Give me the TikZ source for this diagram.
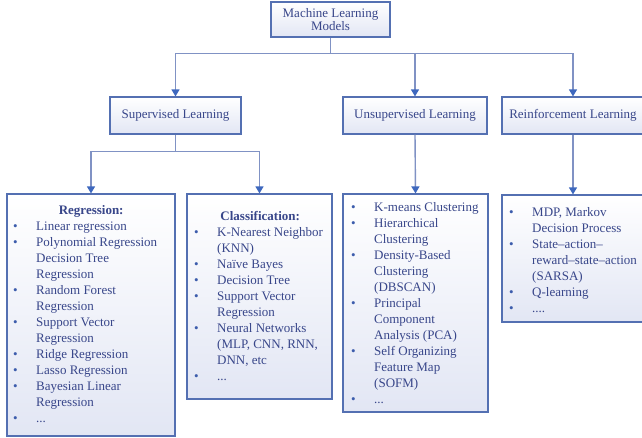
\documentclass[tikz,border=0pt]{standalone}
\usepackage{fontspec}
\setmainfont{Liberation Serif}
\usepackage{array}
\usetikzlibrary{arrows.meta}
\definecolor{mlline}{RGB}{84,112,178}
\definecolor{mlconn}{RGB}{128,146,196}
\definecolor{mlarrow}{RGB}{62,104,190}
\definecolor{mlfill}{RGB}{226,230,244}
\definecolor{mltext}{RGB}{56,70,138}
\definecolor{mlbullet}{RGB}{60,92,172}
\newcommand{\itm}{\textcolor{mlbullet}{\textbullet}}
\newcommand{\hd}[2]{\multicolumn{2}{@{}>{\centering\arraybackslash}p{#1}@{}}{\textbf{#2}}}
\begin{document}
\begin{tikzpicture}[x=1pt,y=-1pt,
    box/.style={draw=mlline,line width=1.2pt,top color=white,bottom color=mlfill,
        text=mltext,inner sep=0pt,font=\fontsize{13}{13}\selectfont,align=center},
    conn/.style={draw=mlconn,line width=1.4pt},
    arr/.style={conn,-{Triangle[width=8pt,length=7pt,color=mlarrow]}},
    list/.style={anchor=north west,inner sep=0pt,text=mltext,font=\fontsize{13}{16}\selectfont}]
\useasboundingbox (0,0) rectangle (642,437);

% top and first level
\node[box,minimum width=119,minimum height=35] (ml) at (330.5,19.5) {Machine Learning\\Models};
\node[box,minimum width=131,minimum height=37] (sup) at (175.5,115.5) {Supervised Learning};
\node[box,minimum width=144,minimum height=37] (uns) at (415,115.5) {Unsupervised Learning};
\node[box,minimum width=142,minimum height=37] (rl) at (573,115.5) {Reinforcement Learning};

% list boxes
\node[box,minimum width=168,minimum height=242] (reg) at (91,315) {};
\node[box,minimum width=145,minimum height=205] (cls) at (259.5,296.5) {};
\node[box,minimum width=145,minimum height=218] (unsl) at (415.5,303) {};
\node[box,minimum width=142,minimum height=127] (rll) at (573,258.5) {};

\node[list] (reglist) at (13,202.8) {\begin{tabular}{@{}p{23pt}@{}l@{}}
\hd{156pt}{Regression:}\\
\itm & Linear regression\\
\itm & Polynomial Regression\\
 & Decision Tree\\
 & Regression\\
\itm & Random Forest\\
 & Regression\\
\itm & Support Vector\\
 & Regression\\
\itm & Ridge Regression\\
\itm & Lasso Regression\\
\itm & Bayesian Linear\\
 & Regression\\
\itm & ...
\end{tabular}};

\node[list] (clslist) at (194,208.8) {\begin{tabular}{@{}p{23pt}@{}l@{}}
\hd{132pt}{Classification:}\\
\itm & K-Nearest Neighbor\\
 & (KNN)\\
\itm & Naïve Bayes\\
\itm & Decision Tree\\
\itm & Support Vector\\
 & Regression\\
\itm & Neural Networks\\
 & (MLP, CNN, RNN,\\
 & DNN, etc\\
\itm & ...
\end{tabular}};

\node[list] (unslist) at (351,199.8) {\begin{tabular}{@{}p{23pt}@{}l@{}}
\itm & K-means Clustering\\
\itm & Hierarchical\\
 & Clustering\\
\itm & Density-Based\\
 & Clustering\\
 & (DBSCAN)\\
\itm & Principal\\
 & Component\\
 & Analysis (PCA)\\
\itm & Self Organizing\\
 & Feature Map\\
 & (SOFM)\\
\itm & ...
\end{tabular}};

\node[list] (rllist) at (509,204.8) {\begin{tabular}{@{}p{23pt}@{}l@{}}
\itm & MDP, Markov\\
 & Decision Process\\
\itm & State–action–\\
 & reward–state–action\\
 & (SARSA)\\
\itm & Q-learning\\
\itm & ....
\end{tabular}};

% connectors
\draw[conn] (ml.south) -- ++(0,16) coordinate (mlsplit);
\draw[arr] (mlsplit) -| (sup.north);
\draw[arr] (mlsplit) -| (uns.north);
\draw[arr] (mlsplit) -| (rl.north);
\draw[conn] (sup.south) -- ++(0,17) coordinate (supsplit);
\draw[arr] (supsplit) -| (reg.north);
\draw[arr] (supsplit) -| (cls.north);
\draw[arr] (uns.south) -- (unsl.north);
\draw[arr] (rl.south) -- (rll.north);
\end{tikzpicture}
\end{document}
